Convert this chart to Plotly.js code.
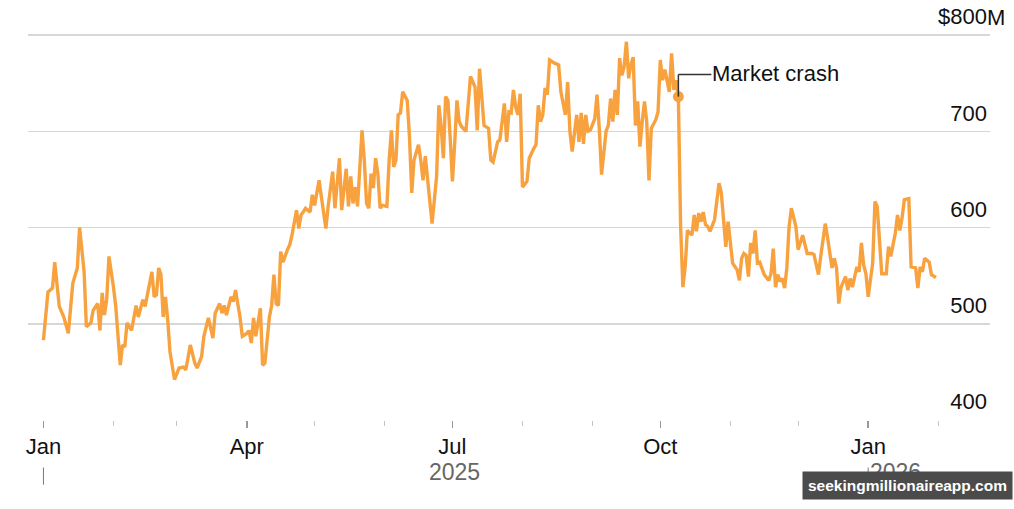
<!DOCTYPE html>
<html>
<head>
<meta charset="utf-8">
<script src="https://cdn.plot.ly/plotly-3.0.1.min.js"></script>
<style>html,body{margin:0;padding:0;background:#fff;}#chart{width:1014px;height:509px;}</style>
</head>
<body>
<div id="chart"></div>
<script>
// Days since 2025-01-01
const dayOffsets = [
0,2,4,5,7,9,11,13,15,16,18,19,21,22,24,25,26,27,28,29,31,32,34,35,36,37,39,41,42,44,45,48,49,50,51,52,53,54,55,56,58,60,62,63,65,
67,68,70,71,73,75,76,78,79,80,81,83,84,85,87,88,90,91,92,93,94,96,97,98,100,101,102,103,104,105,106,108,109,110,111,112,113,114,115,116,118,119,120,122,123,125,126,128,129,130,131,132,134,135,136,
137,138,139,140,141,142,143,144,145,146,147,148,149,150,152,153,154,155,156,157,158,159,161,162,163,164,166,167,168,169,170,172,174,175,176,177,178,179,180,181,182,183,184,185,187,188,189,191,192,193,194,195,197,198,199,201,202,
204,205,206,207,208,209,210,211,212,214,215,217,218,219,220,221,222,223,224,226,228,229,231,232,233,234,236,237,238,239,240,241,242,244,245,246,247,249,250,251,252,253,254,255,256,257,258,259,260,261,262,263,264,265,266,267,268,269,271,272,
273,274,275,277,278,279,280,281,282,283,284,285,287,288,289,290,291,292,293,294,295,297,298,299,300,301,302,303,304,305,307,308,309,310,311,312,313,314,315,316,317,318,319,321,322,323,324,325,326,327,328,329,330,331,333,334,335,336,338,340,341,
343,344,346,347,349,350,351,352,353,355,356,357,358,360,361,362,363,364,365,367,368,369,370,371,373,374,375,377,378,379,380,381,383,384,386,387,388,389,390,392,393,395
];
// Value, $M
const values = [
483,533,537,564,518,507,490,542,558,600,554,497,501,514,521,493,532,509,525,570,538,518,457,478,476,501,493,519,507,525,518,554,528,530,558,551,507,528,504,471,442,454,455,452,478,
459,454,466,487,506,485,511,521,511,519,509,528,523,535,507,487,490,493,480,506,487,516,457,459,507,519,551,521,519,575,564,577,582,592,603,618,599,613,616,620,616,634,623,649,632,599,622,658,620,649,672,618,661,622,653,
625,642,622,663,701,670,625,620,656,641,672,656,620,623,622,670,701,663,670,717,719,741,732,694,636,670,686,670,649,674,649,604,653,727,705,672,736,732,694,648,687,732,710,705,700,725,757,746,701,765,729,706,703,670,668,689,691,
729,689,720,719,743,725,717,739,642,648,672,682,686,727,710,717,745,738,774,771,769,741,717,751,700,679,717,689,719,687,717,700,701,713,738,703,655,700,706,734,710,743,717,776,758,767,793,755,769,777,706,731,684,710,731,710,649,703,712,720,
774,753,764,741,781,743,753,736,601,538,559,597,592,613,596,615,606,616,603,601,596,608,625,646,636,611,580,606,580,563,556,545,568,573,571,549,584,573,597,563,564,556,551,545,552,578,538,551,544,547,537,558,601,620,601,577,584,592,573,573,572,
551,570,604,590,558,568,558,521,538,549,535,547,538,559,554,584,561,552,528,563,627,622,587,552,552,580,570,594,613,597,610,629,630,559,558,537,559,554,568,564,551,548
];
const yTickVals = [400, 500, 600, 700, 800];
const yTickText = ['400', '500', '600', '700', '$800'];
const yUnitSuffix = 'M';
const crashDay = 281;
const crashLabel = 'Market crash';
const yearLabels = ['2025', '2026'];

function toISO(d) {
  return new Date(Date.UTC(2025, 0, 1) + d * 86400000).toISOString().slice(0, 10);
}
const dates = dayOffsets.map(toISO);
const crashIdx = dayOffsets.indexOf(crashDay);
const crashDate = dates[crashIdx];
const crashValue = values[crashIdx];

const orange = '#F7A23F';
const FONT = 'Liberation Sans, Arial, Helvetica, sans-serif';
const FS = 22;

const traces = [
  {x: dates, y: values, type: 'scatter', mode: 'lines',
   line: {color: orange, width: 3.4, shape: 'linear'}, hoverinfo: 'x+y'},
  {x: [crashDate], y: [crashValue], type: 'scatter', mode: 'markers',
   marker: {color: orange, size: 11}, hoverinfo: 'skip'}
];

const layout = {
  width: 1014, height: 509,
  margin: {l: 28, r: 24, t: 30, b: 89},
  paper_bgcolor: '#fff', plot_bgcolor: '#fff',
  showlegend: false,
  font: {family: FONT, size: FS, color: '#111'},
  xaxis: {
    type: 'date',
    range: ['2024-12-25 04:00', '2026-02-23 22:00'],
    showgrid: false, zeroline: false, showline: false,
    tickmode: 'linear', tick0: '2025-01-01', dtick: 'M3', tickformat: '%b',
    ticks: 'outside', ticklen: 7, tickwidth: 1.5, tickcolor: '#999',
    tickfont: {family: FONT, size: FS, color: '#111'},
    minor: {dtick: 'M1', tick0: '2025-01-01', ticks: 'outside', ticklen: 5, tickwidth: 1, tickcolor: '#c4c4c4', showgrid: false}
  },
  yaxis: {
    side: 'right', range: [400, 805.2], fixedrange: true,
    tickmode: 'array', tickvals: yTickVals, ticktext: yTickText,
    ticklabelposition: 'inside top', ticklabeloverflow: 'allow', ticklabelshift: -3,
    ticks: '', showgrid: true, gridcolor: '#d7d7d7', gridwidth: 1.5,
    zeroline: false, showline: false,
    tickfont: {family: FONT, size: FS, color: '#111'}
  },
  shapes: [
    {type: 'line', xref: 'x', yref: 'y', x0: crashDate, x1: crashDate,
     ysizemode: 'pixel', yanchor: crashValue, y0: 0, y1: 22,
     line: {color: '#333', width: 1.5}},
    {type: 'line', xref: 'x', yref: 'y', xsizemode: 'pixel', xanchor: crashDate, x0: 0, x1: 33,
     ysizemode: 'pixel', yanchor: crashValue, y0: 22, y1: 22,
     line: {color: '#333', width: 1.5}},
    {type: 'line', xref: 'x', yref: 'paper', x0: '2025-01-01', x1: '2025-01-01', y0: -0.122, y1: -0.166,
     line: {color: '#777', width: 1}},
    {type: 'line', xref: 'x', yref: 'paper', x0: '2026-01-01', x1: '2026-01-01', y0: -0.122, y1: -0.166,
     line: {color: '#777', width: 1}}
  ],
  annotations: [
    {xref: 'paper', yref: 'y', x: 1, y: 800, text: yUnitSuffix, showarrow: false,
     xanchor: 'left', yanchor: 'middle', xshift: -5, yshift: 18, font: {family: FONT, size: FS, color: '#111'}},
    {xref: 'x', yref: 'y', x: crashDate, y: crashValue, text: crashLabel, showarrow: false,
     xanchor: 'left', yanchor: 'middle', xshift: 32, yshift: 23, font: {family: FONT, size: FS, color: '#111'}},
    {xref: 'x', yref: 'paper', x: '2025-07-02', y: -0.133, text: yearLabels[0], showarrow: false,
     xanchor: 'center', yanchor: 'middle', font: {family: FONT, size: 23, color: '#666'}},
    {xref: 'x', yref: 'paper', x: '2026-01-01', y: -0.133, text: yearLabels[1], showarrow: false,
     xanchor: 'left', yanchor: 'middle', xshift: 0, font: {family: FONT, size: 23, color: '#666'}},
    {xref: 'paper', yref: 'paper', x: (1013 - 28) / 962, y: -0.167, text: '<b>seekingmillionaireapp.com</b>',
     showarrow: false, xanchor: 'right', yanchor: 'middle', bgcolor: '#4b4b4b', borderpad: 5,
     font: {family: FONT, size: 15.5, color: '#fff'}}
  ]
};

Plotly.newPlot('chart', traces, layout, {displayModeBar: false, staticPlot: true});
</script>
</body>
</html>
